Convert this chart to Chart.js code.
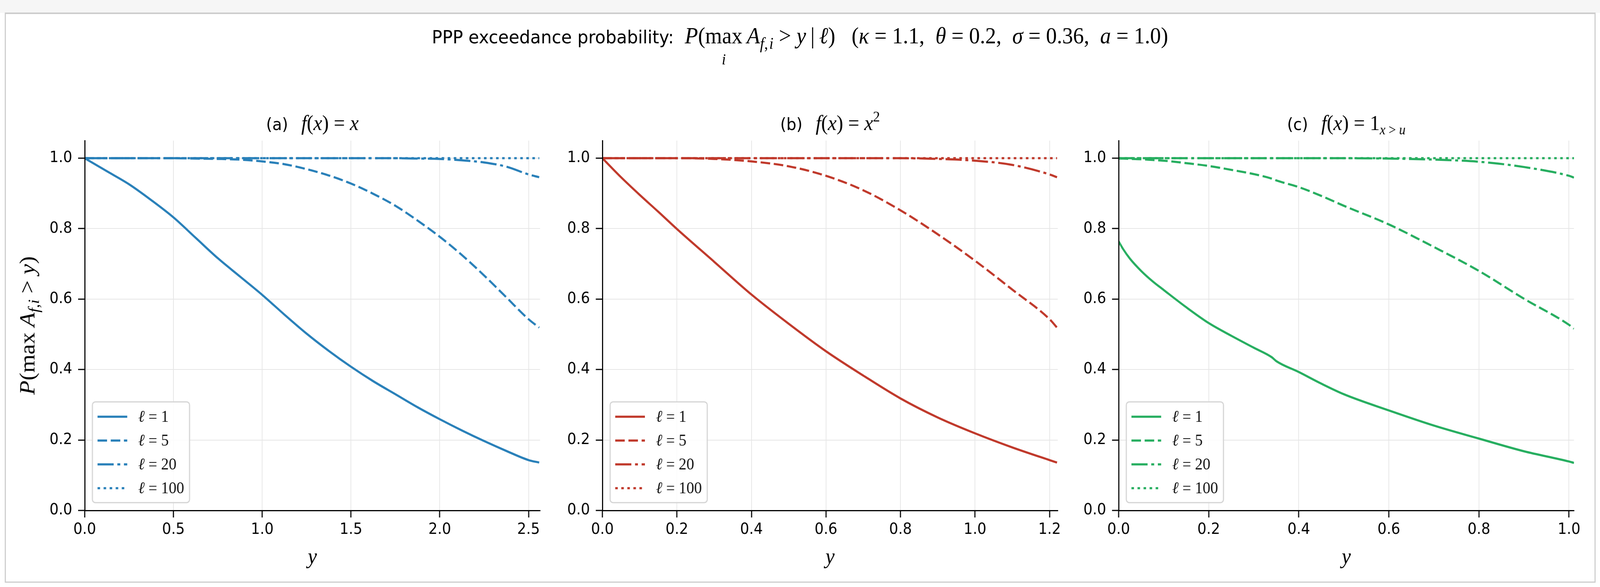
<!DOCTYPE html>
<html>
<head>
<meta charset="utf-8">
<script src="https://cdn.jsdelivr.net/npm/chart.js@4.4.1/dist/chart.umd.min.js"></script>
<style>
  html, body { margin: 0; padding: 0; background: #fff; overflow: hidden; }
  #root { position: absolute; left: 0; top: 0; width: 4364px; height: 1503px; transform-origin: 0 0; }
  #band { position: absolute; left: 0; top: 0; width: 4364px; height: 33px; background: #f6f6f6; }
  #frame { position: absolute; left: 13px; top: 32px; width: 4333px; height: 1453px; border: 3px solid #cdcdcd; border-top-width: 4px; }
  #sup { position: absolute; left: 0; top: 56px; width: 4364px; text-align: center; line-height: 70px; white-space: nowrap;
         font-family: "DejaVu Sans"; font-size: 47px; color: #000; }
  #sup .m { font-family: "Liberation Serif"; font-size: 59px; }
  #sup i { font-style: italic; }
  #sup sub { font-size: 0.7em; vertical-align: -0.35em; line-height: 0; }
  #sup .lim { position: relative; display: inline-block; line-height: 1; }
  #sup .under { position: absolute; left: 50%; transform: translateX(-50%); top: 70px; font-size: 40px; font-style: italic; }
  canvas { position: absolute; top: 250px; }
</style>
</head>
<body>
<div id="root">
<div id="band"></div>
<div id="frame"></div>
<div id="sup">PPP exceedance probability:&nbsp;&nbsp;<span class="m"><i>P</i>(<span class="lim">max<span class="under">i</span></span>&#8201;<i>A</i><sub><i>f</i>,&#8202;<i>i</i></sub> &gt; <i>y</i>&#8201;|&#8201;<i>ℓ</i>)&nbsp;&nbsp;&nbsp;(<i>κ</i> = 1.1,&nbsp; <i>θ</i> = 0.2,&nbsp; <i>σ</i> = 0.36,&nbsp; <i>a</i> = 1.0)</span></div>
<canvas id="pa" width="1522" height="1250" style="left:11px;width:1522px;height:1250px"></canvas>
<canvas id="pb" width="1522" height="1250" style="left:1423px;width:1522px;height:1250px"></canvas>
<canvas id="pc" width="1522" height="1250" style="left:2831px;width:1522px;height:1250px"></canvas>
</div>
<script>
// the layout is drawn on a 4364 x 1503 grid and stretched onto the real viewport
document.getElementById('root').style.transform =
  'scale(' + (window.innerWidth / 4364) + ',' + (window.innerHeight / 1503) + ')';

// tick positions
const yTicks = [0, 0.2, 0.4, 0.6, 0.8, 1.0];
const xTicksA = [0, 0.5, 1.0, 1.5, 2.0, 2.5];
const xTicksB = [0, 0.2, 0.4, 0.6, 0.8, 1.0, 1.2];
const xTicksC = [0, 0.2, 0.4, 0.6, 0.8, 1.0];
const ells = ['1', '5', '20', '100'];

// (a) f(x) = x
const xA = [0, 0.125, 0.25, 0.375, 0.5, 0.625, 0.75, 0.875, 1.0, 1.125, 1.25, 1.375, 1.5, 1.625, 1.75, 1.875, 2.0, 2.125, 2.25, 2.375, 2.5, 2.56];
const a1 = [1.000, 0.963, 0.926, 0.881, 0.832, 0.774, 0.716, 0.664, 0.612, 0.556, 0.502, 0.453, 0.408, 0.367, 0.330, 0.293, 0.259, 0.227, 0.197, 0.169, 0.143, 0.136];
const a5 = [1.000, 1.000, 1.000, 1.000, 1.000, 0.999, 0.998, 0.996, 0.991, 0.983, 0.969, 0.951, 0.928, 0.899, 0.865, 0.823, 0.777, 0.725, 0.667, 0.605, 0.543, 0.519];
const a20 = [1.000, 1.000, 1.000, 1.000, 1.000, 1.000, 1.000, 1.000, 1.000, 1.000, 1.000, 1.000, 1.000, 1.000, 1.000, 0.999, 0.998, 0.994, 0.988, 0.976, 0.954, 0.946];
const a100 = [1.000, 1.000, 1.000, 1.000, 1.000, 1.000, 1.000, 1.000, 1.000, 1.000, 1.000, 1.000, 1.000, 1.000, 1.000, 1.000, 1.000, 1.000, 1.000, 1.000, 1.000, 1.000];

// (b) f(x) = x^2
const xB = [0, 0.05, 0.1, 0.15, 0.2, 0.3, 0.4, 0.5, 0.6, 0.7, 0.8, 0.9, 1.0, 1.1, 1.2, 1.22];
const b1 = [1.000, 0.946, 0.896, 0.848, 0.799, 0.706, 0.613, 0.530, 0.452, 0.383, 0.318, 0.264, 0.219, 0.179, 0.143, 0.136];
const b5 = [1.000, 1.000, 1.000, 1.000, 1.000, 0.998, 0.991, 0.977, 0.950, 0.909, 0.852, 0.784, 0.709, 0.627, 0.543, 0.519];
const b20 = [1.000, 1.000, 1.000, 1.000, 1.000, 1.000, 1.000, 1.000, 1.000, 1.000, 1.000, 0.998, 0.993, 0.981, 0.954, 0.946];
const b100 = [1.000, 1.000, 1.000, 1.000, 1.000, 1.000, 1.000, 1.000, 1.000, 1.000, 1.000, 1.000, 1.000, 1.000, 1.000, 1.000];

// (c) f(x) = 1_{x>u}
const xC = [0, 0.01, 0.025, 0.05, 0.075, 0.1, 0.15, 0.2, 0.25, 0.3, 0.34, 0.35, 0.4, 0.45, 0.5, 0.6, 0.7, 0.8, 0.9, 1.0, 1.011];
const c1 = [0.764, 0.742, 0.715, 0.680, 0.651, 0.626, 0.577, 0.532, 0.496, 0.462, 0.435, 0.424, 0.393, 0.360, 0.330, 0.284, 0.241, 0.204, 0.168, 0.139, 0.135];
const c5 = [0.999, 0.999, 0.998, 0.997, 0.995, 0.993, 0.986, 0.978, 0.967, 0.955, 0.942, 0.937, 0.918, 0.893, 0.865, 0.812, 0.748, 0.680, 0.601, 0.527, 0.516];
const c20 = [1.000, 1.000, 1.000, 1.000, 1.000, 1.000, 1.000, 1.000, 1.000, 1.000, 1.000, 1.000, 1.000, 1.000, 1.000, 0.999, 0.996, 0.990, 0.975, 0.950, 0.945];
const c100 = [1.000, 1.000, 1.000, 1.000, 1.000, 1.000, 1.000, 1.000, 1.000, 1.000, 1.000, 1.000, 1.000, 1.000, 1.000, 1.000, 1.000, 1.000, 1.000, 1.000, 1.000];

const dashes = [[], [26, 10], [44, 10, 8, 10], [7, 9.5]];

const SANS = '"DejaVu Sans"';
const SERIF = '"Liberation Serif"';
const it = s => 'italic ' + s + 'px ' + SERIF;
const rm = s => s + 'px ' + SERIF;
const sans = s => s + 'px ' + SANS;

// draws a row of text pieces with different fonts (simple math typesetting)
function drawRich(ctx, parts, x, y, align) {
  let total = 0;
  for (const p of parts) {
    if (p.sp) { p.w = p.sp; total += p.w; continue; }
    ctx.font = p.f;
    p.w = ctx.measureText(p.t).width;
    total += p.w;
  }
  let cx = align === 'center' ? x - total / 2 : x;
  ctx.textAlign = 'left';
  ctx.textBaseline = 'alphabetic';
  for (const p of parts) {
    if (!p.sp) {
      ctx.font = p.f;
      ctx.fillText(p.t, cx, y + (p.dy || 0));
    }
    cx += p.w;
  }
}

function decor(panel) {
  return {
    id: 'decor',
    afterDatasetsDraw(chart) {
      const ctx = chart.ctx, ca = chart.chartArea;
      ctx.save();
      ctx.fillStyle = '#000';
      drawRich(ctx, panel.title, (ca.left + ca.right) / 2, 83, 'center');

      if (panel.ylabel) {
        ctx.save();
        ctx.translate(83, (ca.top + ca.bottom) / 2);
        ctx.rotate(-Math.PI / 2);
        drawRich(ctx, panel.ylabel, 0, 0, 'center');
        ctx.restore();
      }

      // legend box, lower left
      const bw = 265, bh = 258;
      const bx = ca.left + 21, by = ca.bottom - 20 - bh;
      ctx.beginPath();
      ctx.roundRect(bx, by, bw, bh, 8);
      ctx.fillStyle = 'rgba(255,255,255,0.85)';
      ctx.fill();
      ctx.lineWidth = 3;
      ctx.strokeStyle = '#d4d4d4';
      ctx.stroke();
      chart.data.datasets.forEach((ds, i) => {
        const yy = by + 38 + 61 * i;
        ctx.beginPath();
        ctx.setLineDash(ds.borderDash);
        ctx.moveTo(bx + 14, yy);
        ctx.lineTo(bx + 95, yy);
        ctx.strokeStyle = ds.borderColor;
        ctx.lineWidth = ds.borderWidth;
        ctx.stroke();
        ctx.setLineDash([]);
        ctx.fillStyle = '#111';
        drawRich(ctx, [{ t: 'ℓ', f: it(42) }, { t: ' = ' + ells[i], f: rm(42) }], bx + 125, yy + 13, 'left');
      });
      ctx.restore();
    }
  };
}

function makePanel(id, panel) {
  const series = panel.ys;
  const datasets = series.map((ys, i) => ({
    label: 'ℓ = ' + ells[i],
    data: panel.xs.map((x, j) => ({ x: x, y: ys[j] })),
    borderColor: panel.color,
    borderWidth: 5.5,
    borderDash: dashes[i],
    pointRadius: 0,
    fill: false,
    cubicInterpolationMode: 'monotone',
    order: series.length - i
  }));
  const tickFont = { family: 'DejaVu Sans', size: 39 };
  const grid = { color: '#e6e6e6', lineWidth: 2, tickLength: 18, tickColor: '#000', tickWidth: 3 };
  return new Chart(document.getElementById(id), {
    type: 'line',
    data: { datasets: datasets },
    options: {
      responsive: false,
      animation: false,
      devicePixelRatio: 1,
      layout: { padding: { top: 110, right: 60, bottom: 0, left: 0 } },
      plugins: { legend: { display: false }, tooltip: { enabled: false }, title: { display: false } },
      scales: {
        x: {
          type: 'linear', min: 0, max: panel.xMax,
          afterFit: s => { s.height = 193; },
          afterBuildTicks: s => { s.ticks = panel.xTicks.map(v => ({ value: v })); },
          ticks: { callback: v => v.toFixed(1), font: tickFont, color: '#000', padding: 8, maxRotation: 0, autoSkip: false },
          grid: grid,
          border: { color: '#000', width: 3, z: 1 },
          title: { display: true, text: 'y', color: '#000', font: { family: 'Liberation Serif', style: 'italic', size: 56 }, padding: { top: 0, bottom: 38 } }
        },
        y: {
          type: 'linear', min: 0, max: 1.05,
          afterFit: s => { s.width = 220; },
          afterBuildTicks: s => { s.ticks = yTicks.map(v => ({ value: v })); },
          ticks: { callback: v => v.toFixed(1), font: tickFont, color: '#000', padding: 16, autoSkip: false },
          grid: grid,
          border: { color: '#000', width: 3, z: 1 }
        }
      }
    },
    plugins: [decor(panel)]
  });
}

const titleHead = lab => [
  { t: lab, f: sans(43) }, { sp: 36 },
  { t: 'f', f: it(54) }, { t: '(', f: rm(54) }, { t: 'x', f: it(54) }, { t: ')', f: rm(54) }, { t: ' = ', f: rm(54) }
];

const yLabel = [
  { t: 'P', f: it(60) }, { t: '(', f: rm(60) }, { t: 'max', f: rm(60) }, { sp: 14 },
  { t: 'A', f: it(60) }, { t: 'f', f: it(42), dy: 12 }, { t: ',', f: rm(42), dy: 12 }, { t: 'i', f: it(42), dy: 12 },
  { t: ' > ', f: rm(60) }, { t: 'y', f: it(60) }, { t: ')', f: rm(60) }
];

makePanel('pa', {
  xs: xA, ys: [a1, a5, a20, a100], xMax: 2.565, xTicks: xTicksA, color: '#2980b9',
  title: titleHead('(a)').concat([{ t: 'x', f: it(54) }]),
  ylabel: yLabel
});
makePanel('pb', {
  xs: xB, ys: [b1, b5, b20, b100], xMax: 1.222, xTicks: xTicksB, color: '#c0392b',
  title: titleHead('(b)').concat([{ t: 'x', f: it(54) }, { t: '2', f: rm(38), dy: -22 }])
});
makePanel('pc', {
  xs: xC, ys: [c1, c5, c20, c100], xMax: 1.011, xTicks: xTicksC, color: '#27ae60',
  title: titleHead('(c)').concat([{ t: '1', f: rm(54) }, { t: 'x', f: it(35), dy: 11 }, { t: ' > ', f: rm(35), dy: 11 }, { t: 'u', f: it(35), dy: 11 }])
});
</script>
</body>
</html>
